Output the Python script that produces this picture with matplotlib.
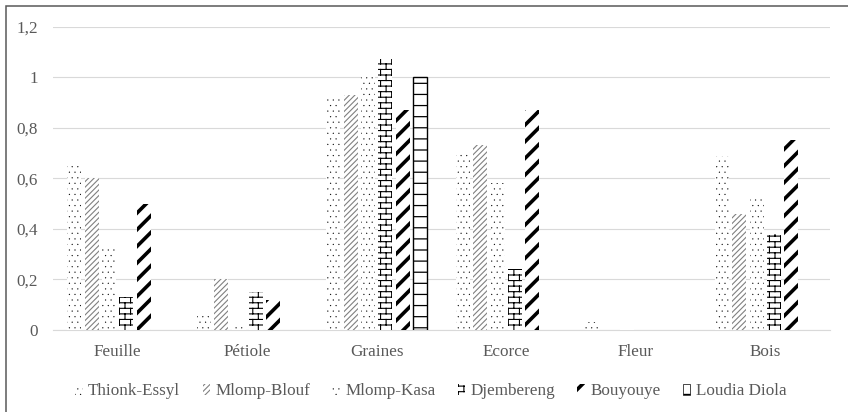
import warnings
import numpy as np
import matplotlib
matplotlib.use('Agg')
import matplotlib.pyplot as plt
from matplotlib import hatch as mhatch
from matplotlib.path import Path
from matplotlib.patches import Rectangle, Patch

warnings.filterwarnings('ignore')

organes = ['Feuille', 'Pétiole', 'Graines', 'Ecorce', 'Fleur', 'Bois']
localites = ['Thionk-Essyl', 'Mlomp-Blouf', 'Mlomp-Kasa', 'Djembereng',
             'Bouyouye', 'Loudia Diola']

thionk = [0.65, 0.06, 0.92, 0.71, 0.03, 0.69]
blouf = [0.60, 0.20, 0.93, 0.73, 0.0, 0.46]
kasa = [0.33, 0.01, 1.01, 0.58, 0.005, 0.53]
djembereng = [0.13, 0.15, 1.07, 0.24, 0.0, 0.38]
bouyouye = [0.50, 0.12, 0.87, 0.87, 0.0, 0.75]
loudia = [0.0, 0.0, 1.0, 0.0, 0.0, 0.0]

yticks = [0, 0.2, 0.4, 0.6, 0.8, 1.0, 1.2]
yticklabels = ['0', '0,2', '0,4', '0,6', '0,8', '1', '1,2']


class Briques(mhatch.HatchPatternBase):
    # motif de briques horizontales, joints décalés d'une demi-brique
    def __init__(self, hatch, density):
        self.rows = int(hatch.count('b') * density * 3)
        self.cols = self.rows // 2
        self.num_vertices = 2 * self.rows + 2 * (self.rows + 1) * self.cols

    def set_vertices_and_codes(self, vertices, codes):
        n = self.rows
        ys = (np.arange(n) + 0.5) / n
        vertices[0:2 * n:2, 0] = 0.0
        vertices[0:2 * n:2, 1] = ys
        vertices[1:2 * n:2, 0] = 1.0
        vertices[1:2 * n:2, 1] = ys
        segs = []
        for r in range(-1, n):
            y0 = max((r + 0.5) / n, 0.0)
            y1 = min((r + 1.5) / n, 1.0)
            for c in range(self.cols):
                xj = (c + 0.25 + 0.5 * (r % 2)) / self.cols
                segs.append([(xj, y0), (xj, y1)])
        vertices[2 * n:] = np.array(segs).reshape(-1, 2)
        codes[0::2] = Path.MOVETO
        codes[1::2] = Path.LINETO


class Echelons(mhatch.HatchPatternBase):
    # traits horizontaux espacés
    def __init__(self, hatch, density):
        self.num_lines = int(hatch.count('h') * density * 1.5)
        self.num_vertices = 2 * self.num_lines

    def set_vertices_and_codes(self, vertices, codes):
        ys = (np.arange(self.num_lines) + 0.5) / self.num_lines
        vertices[0::2, 0] = 0.0
        vertices[0::2, 1] = ys
        vertices[1::2, 0] = 1.0
        vertices[1::2, 1] = ys
        codes[0::2] = Path.MOVETO
        codes[1::2] = Path.LINETO


mhatch._hatch_types.extend([Briques, Echelons])

plt.rcParams['font.family'] = ['Liberation Serif', 'DejaVu Serif']
gris = '#595959'
taille = 12.3

fig = plt.figure(figsize=(8.48, 4.12), dpi=100)
ax = fig.add_axes([0.0625, 0.199, 0.9163, 0.7364])

series = [thionk, blouf, kasa, djembereng, bouyouye, loudia]
styles = [
    dict(hatch='...', edgecolor='black', linewidth=0, hlw=0.1),
    dict(hatch='//////', edgecolor='#808080', linewidth=0, hlw=0.8),
    dict(hatch='...', edgecolor='black', linewidth=0, hlw=0.1),
    dict(hatch='b', edgecolor='black', linewidth=0, hlw=0.8),
    dict(hatch='//', edgecolor='black', linewidth=0, hlw=2.6),
    dict(hatch='h', edgecolor='black', linewidth=1.0, hlw=0.9),
]

x = np.arange(len(organes))
pas = 0.134
larg = 0.108
handles = []
for i, (vals, st) in enumerate(zip(series, styles)):
    pos = x + (i - 2.5) * pas
    with plt.rc_context({'hatch.linewidth': st['hlw']}):
        bars = ax.bar(pos, vals, width=larg, color='white',
                      edgecolor=st['edgecolor'], linewidth=st['linewidth'],
                      hatch=st['hatch'], zorder=3)
        for b in bars:
            if hasattr(b, 'set_hatch_linewidth'):
                b.set_hatch_linewidth(st['hlw'])
            if b.get_height() == 0:
                b.set_visible(False)
        handles.append(Patch(facecolor='white', edgecolor=st['edgecolor'],
                             linewidth=st['linewidth'] * 0.5,
                             hatch=st['hatch'], label=localites[i]))

ax.set_xlim(-0.5, len(organes) - 0.5)
ax.set_ylim(0, 1.2)
ax.set_yticks(yticks, yticklabels)
ax.set_xticks(x, organes)
ax.tick_params(axis='both', length=0, labelsize=taille, colors=gris)
ax.tick_params(axis='x', pad=10)
ax.tick_params(axis='y', pad=11)
ax.grid(axis='y', color='#d9d9d9', linewidth=0.8, zorder=0)
ax.set_axisbelow(True)
for s in ['left', 'right', 'top']:
    ax.spines[s].set_visible(False)
ax.spines['bottom'].set_color('#d9d9d9')
ax.spines['bottom'].set_linewidth(0.8)

leg = fig.legend(handles=handles, loc='center',
                 bbox_to_anchor=(0.508, 0.05), ncol=6, frameon=False,
                 handlelength=0.45, handleheight=0.55, handletextpad=0.3,
                 columnspacing=1.3, fontsize=taille)
for t in leg.get_texts():
    t.set_color(gris)
for p, st in zip(leg.get_patches(), styles):
    if hasattr(p, 'set_hatch_linewidth'):
        p.set_hatch_linewidth(st['hlw'])

# cadre du graphique
fig.patches.append(Rectangle((6 / 848, -0.1), 1.2, 1.1 - 5.5 / 412,
                             transform=fig.transFigure, fill=False,
                             edgecolor='#595959', linewidth=1.1))

fig.savefig('out.png', dpi=100)
